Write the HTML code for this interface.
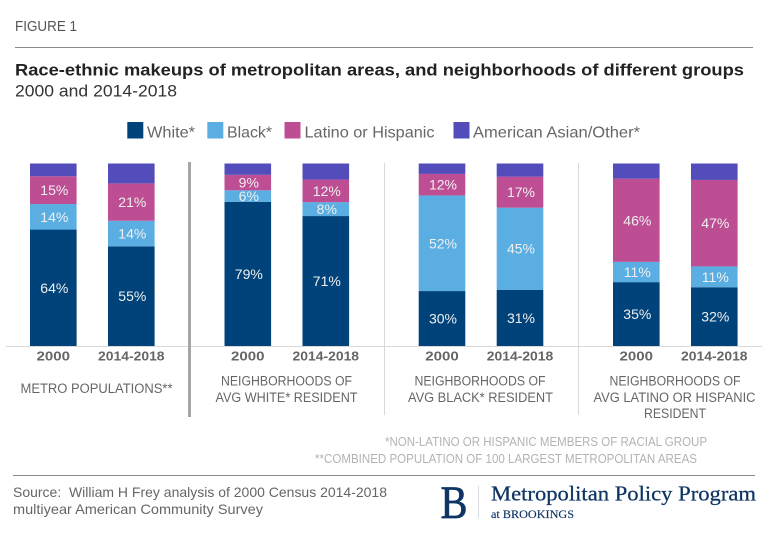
<!DOCTYPE html>
<html lang="en">
<head>
<meta charset="utf-8">
<title>Race-ethnic makeups of metropolitan areas</title>
<style>
html,body{margin:0;padding:0;background:#fff;width:768px;height:533px;overflow:hidden}
svg{display:block;font-family:"Liberation Sans",sans-serif}
</style>
</head>
<body>
<svg id="chart" width="768" height="533" viewBox="0 0 768 533">
  <text x="15" y="31" font-size="15" fill="#555" textLength="62" lengthAdjust="spacingAndGlyphs">FIGURE 1</text>
  <rect x="15" y="47" width="738" height="1" fill="#8a8a8a"/>
  <text x="15" y="75.5" font-size="17" font-weight="bold" fill="#222" textLength="729" lengthAdjust="spacingAndGlyphs">Race-ethnic makeups of metropolitan areas, and neighborhoods of different groups</text>
  <text x="15" y="96.5" font-size="17" fill="#333" textLength="162" lengthAdjust="spacingAndGlyphs">2000 and 2014-2018</text>

  <g>
    <rect x="127.3" y="122" width="16" height="16.5" fill="#00437a"/>
    <text x="147" y="137.5" font-size="16" fill="#666" textLength="48" lengthAdjust="spacingAndGlyphs">White*</text>
    <rect x="207.3" y="122" width="16" height="16.5" fill="#5aaee2"/>
    <text x="227" y="137.5" font-size="16" fill="#666" textLength="45" lengthAdjust="spacingAndGlyphs">Black*</text>
    <rect x="284.5" y="122" width="16" height="16.5" fill="#bd4e93"/>
    <text x="304.5" y="137.5" font-size="16" fill="#666" textLength="130" lengthAdjust="spacingAndGlyphs">Latino or Hispanic</text>
    <rect x="453.5" y="122" width="16" height="16.5" fill="#524dbb"/>
    <text x="473" y="137.5" font-size="16" fill="#666" textLength="167" lengthAdjust="spacingAndGlyphs">American Asian/Other*</text>
  </g>

  <g id="bars"></g>

  <rect x="6" y="346" width="756" height="1" fill="#d9d9d9"/>
  <rect x="188" y="162" width="3" height="255" fill="#a6a6a6"/>
  <rect x="384" y="163" width="1" height="252" fill="#d9d9d9"/>
  <rect x="578" y="163" width="1" height="252" fill="#d9d9d9"/>

  <g id="ticks"></g>

  <g font-size="13.5" fill="#666" text-anchor="middle">
    <text x="96.5" y="393" textLength="152" lengthAdjust="spacingAndGlyphs">METRO POPULATIONS**</text>
    <text x="286.5" y="385.5" textLength="131" lengthAdjust="spacingAndGlyphs">NEIGHBORHOODS OF</text>
    <text x="286.5" y="402" textLength="142" lengthAdjust="spacingAndGlyphs">AVG WHITE* RESIDENT</text>
    <text x="480" y="385.5" textLength="131" lengthAdjust="spacingAndGlyphs">NEIGHBORHOODS OF</text>
    <text x="480.5" y="402" textLength="145" lengthAdjust="spacingAndGlyphs">AVG BLACK* RESIDENT</text>
    <text x="675" y="385.5" textLength="131" lengthAdjust="spacingAndGlyphs">NEIGHBORHOODS OF</text>
    <text x="674.5" y="402" textLength="162" lengthAdjust="spacingAndGlyphs">AVG LATINO OR HISPANIC</text>
    <text x="675" y="418" textLength="62" lengthAdjust="spacingAndGlyphs">RESIDENT</text>
  </g>

  <text x="707" y="446" font-size="12.5" fill="#b3b3b3" text-anchor="end" textLength="322" lengthAdjust="spacingAndGlyphs">*NON-LATINO OR HISPANIC MEMBERS OF RACIAL GROUP</text>
  <text x="697" y="463" font-size="12.5" fill="#b3b3b3" text-anchor="end" textLength="382" lengthAdjust="spacingAndGlyphs">**COMBINED POPULATION OF 100 LARGEST METROPOLITAN AREAS</text>

  <rect x="13" y="475" width="742" height="1" fill="#8a8a8a"/>
  <text x="13" y="497" font-size="14" fill="#666" textLength="374" lengthAdjust="spacingAndGlyphs">Source:&#160; William H Frey analysis of 2000 Census 2014-2018</text>
  <text x="13" y="514" font-size="14" fill="#666" textLength="250" lengthAdjust="spacingAndGlyphs">multiyear American Community Survey</text>

  <g font-family="'Liberation Serif',serif" fill="#0f3564">
    <text x="440.5" y="518" font-size="47" stroke="#0f3564" stroke-width="0.7" textLength="27" lengthAdjust="spacingAndGlyphs">B</text>
    <rect x="478" y="486" width="1" height="32" fill="#d5dbe3"/>
    <text x="491" y="500.5" font-size="21.5" stroke="#0f3564" stroke-width="0.25" textLength="265" lengthAdjust="spacingAndGlyphs">Metropolitan Policy Program</text>
    <text x="491" y="518" font-size="12" stroke="#0f3564" stroke-width="0.15" textLength="83" lengthAdjust="spacingAndGlyphs">at BROOKINGS</text>
  </g>
</svg>

<script>
const years = ["2000", "2014-2018"];
const groups = ["metro", "white-neighborhood", "black-neighborhood", "latino-neighborhood"];
const white  = [63.8, 54.6, 79.0, 71.2, 30.1, 30.8, 35.0, 32.2];
const black  = [14.0, 14.0, 6.3, 7.6, 52.4, 45.0, 11.1, 11.4];
const latino = [15.2, 20.5, 8.5, 12.4, 11.8, 17.0, 45.6, 47.4];
const other  = [7.0, 10.9, 6.2, 8.8, 5.7, 7.2, 8.3, 9.0];

const seriesNames = ["white", "black", "latino", "other"];
const seriesValues = [white, black, latino, other];
const seriesColors = ["#00437a", "#5aaee2", "#bd4e93", "#524dbb"];
const showLabel = [true, true, true, false];

const NS = "http://www.w3.org/2000/svg";
const barsLayer = document.getElementById("bars");
const ticksLayer = document.getElementById("ticks");

const baseY = 346;
const plotH = 182.5;
const barW = 46.6;
const groupStart = [30, 224.5, 418.7, 613];
const barGap = 78;

function xScale(i) {
  const g = Math.floor(i / years.length);
  return groupStart[g] + (i % years.length) * barGap;
}
function yScale(v) {
  return baseY - v / 100 * plotH;
}

white.forEach(function (_, i) {
  const x = xScale(i);
  let cum = 0;
  const group = groups[Math.floor(i / years.length)];
  const yearIndex = i % years.length;
  const year = years[yearIndex];
  seriesValues.forEach(function (vals, s) {
    const v = vals[i];
    const y1 = yScale(cum + v);
    const y0 = yScale(cum);
    const r = document.createElementNS(NS, "rect");
    r.setAttribute("x", x);
    r.setAttribute("y", y1);
    r.setAttribute("width", barW);
    r.setAttribute("height", y0 - y1);
    r.setAttribute("fill", seriesColors[s]);
    
    
    r.setAttribute("aria-label", group + " " + year + " " + seriesNames[s]);
    barsLayer.appendChild(r);
    if (showLabel[s]) {
      const t = document.createElementNS(NS, "text");
      t.setAttribute("x", x + barW / 2 + 1);
      t.setAttribute("y", (y0 + y1) / 2 + 5);
      t.setAttribute("text-anchor", "middle");
      t.setAttribute("font-size", "14");
      t.setAttribute("fill", "#f0f0f0");
      
      
      t.textContent = Math.round(v) + "%";
      barsLayer.appendChild(t);
    }
    cum += v;
  });
  const tick = document.createElementNS(NS, "text");
  tick.setAttribute("x", x + barW / 2);
  tick.setAttribute("y", 360.5);
  tick.setAttribute("text-anchor", "middle");
  tick.setAttribute("font-size", "13");
  tick.setAttribute("font-weight", "bold");
  tick.setAttribute("fill", "#666");
  tick.setAttribute("textLength", yearIndex === 0 ? 33.5 : 66.5);
  tick.setAttribute("lengthAdjust", "spacingAndGlyphs");
  
  
  tick.textContent = year;
  ticksLayer.appendChild(tick);
});
</script>
</body>
</html>
